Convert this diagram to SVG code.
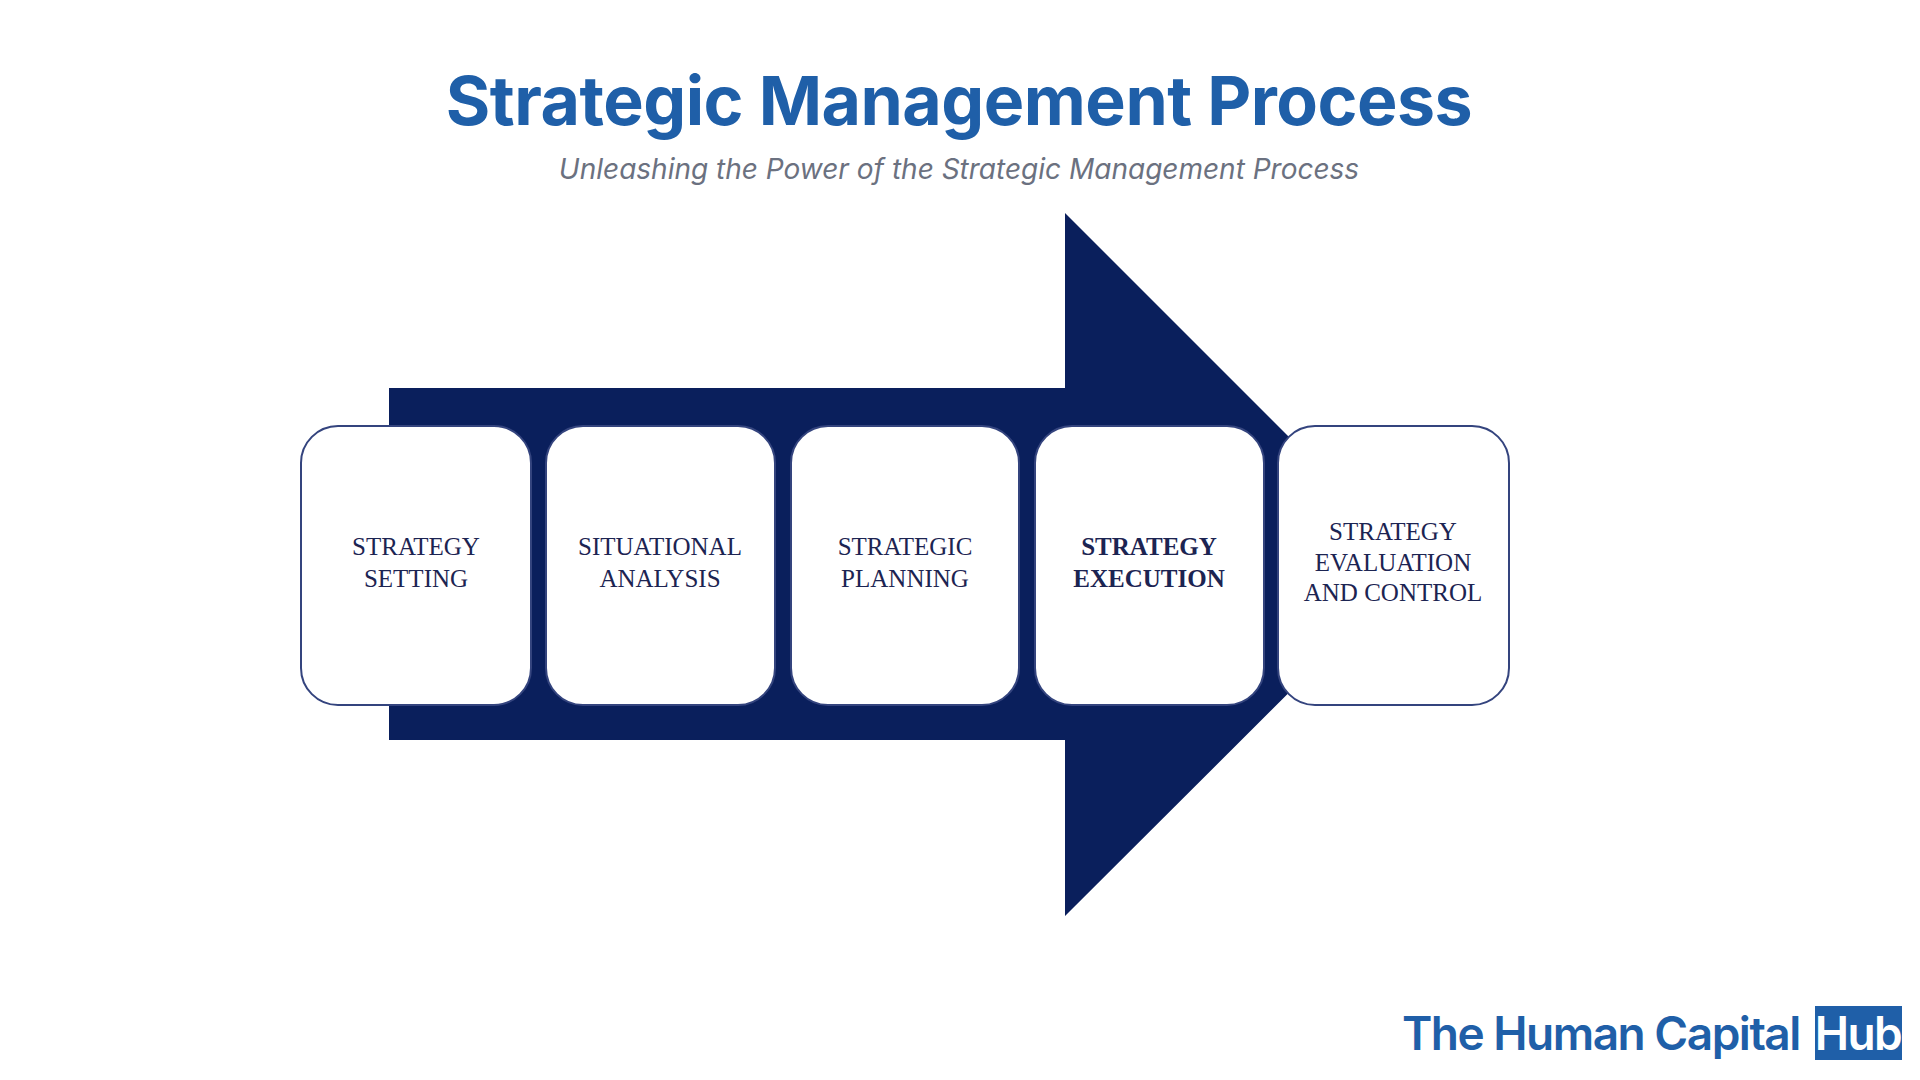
<svg xmlns="http://www.w3.org/2000/svg" width="1920" height="1080" viewBox="0 0 1920 1080">
<style>
.box{fill:#fff;stroke:#34447e;stroke-width:2}
.lbl{font-family:"Liberation Serif",serif;font-size:25px;fill:#1c2452;text-anchor:middle}
</style>
<rect width="1920" height="1080" fill="#fff"/>
<text x="959" y="125" font-family="Inter, 'Open Sans', sans-serif" font-weight="700" font-size="68" fill="#1f5fa8" text-anchor="middle" letter-spacing="-0.5">Strategic Management Process</text>
<text x="959" y="179" font-family="Inter, 'Open Sans', sans-serif" font-style="italic" font-size="28" fill="#6b7180" text-anchor="middle">Unleashing the Power of the Strategic Management Process</text>
<g id="connectors">
<polygon points="389,388 1065,388 1065,213 1417,565 1065,916 1065,740 389,740" fill="#0a1f5c"/>
</g>
<g id="n1"><rect class="box" x="301" y="426" width="230" height="279" rx="37"/><text class="lbl" x="416" y="555">STRATEGY</text><text class="lbl" x="416" y="587">SETTING</text></g>
<g id="n2"><rect class="box" x="546" y="426" width="229" height="279" rx="37"/><text class="lbl" x="660" y="555">SITUATIONAL</text><text class="lbl" x="660" y="587">ANALYSIS</text></g>
<g id="n3"><rect class="box" x="791" y="426" width="228" height="279" rx="37"/><text class="lbl" x="905" y="555">STRATEGIC</text><text class="lbl" x="905" y="587">PLANNING</text></g>
<g id="n4"><rect class="box" x="1035" y="426" width="229" height="279" rx="37"/><text class="lbl" x="1149" y="555" font-weight="700">STRATEGY</text><text class="lbl" x="1149" y="587" font-weight="700">EXECUTION</text></g>
<g id="n5"><rect class="box" x="1278" y="426" width="231" height="279" rx="37"/><text class="lbl" x="1393" y="540">STRATEGY</text><text class="lbl" x="1393" y="571">EVALUATION</text><text class="lbl" x="1393" y="601">AND CONTROL</text></g>
<g id="logo">
<text x="1402" y="1050" font-family="Inter, 'Open Sans', sans-serif" font-weight="600" font-size="46" fill="#1f5fa8" letter-spacing="-1.5">The Human Capital</text>
<rect x="1815" y="1006" width="87" height="54" fill="#1f5fa8"/>
<text x="1858" y="1050" font-family="Inter, 'Open Sans', sans-serif" font-weight="600" font-size="46" fill="#fff" text-anchor="middle" letter-spacing="-1.5">Hub</text>
</g>
</svg>
